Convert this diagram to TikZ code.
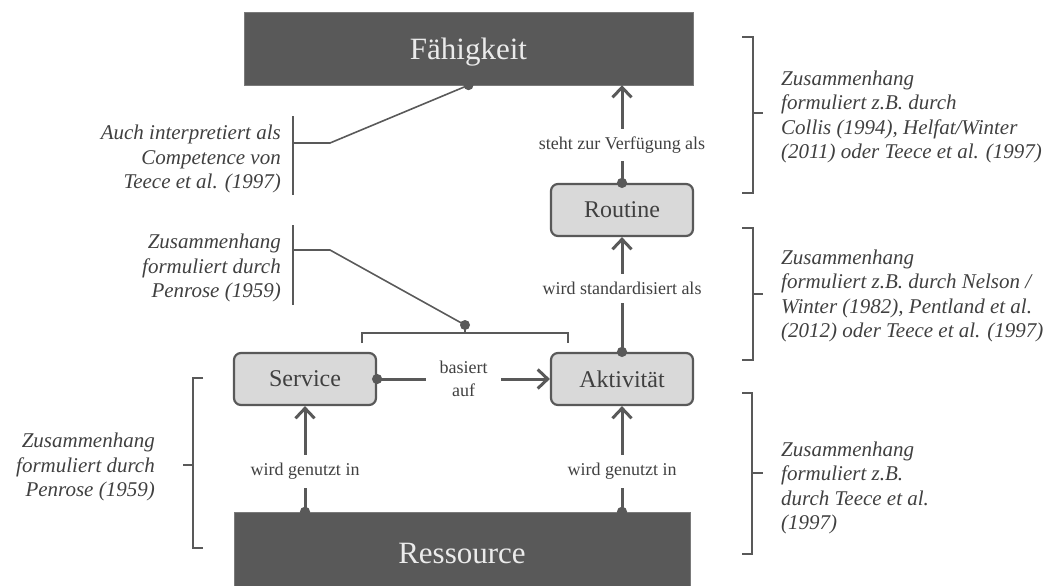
\documentclass[tikz,border=0pt]{standalone}
\usepackage{fontspec}
\setmainfont{Liberation Serif}
\usetikzlibrary{arrows.meta,positioning,calc}
\definecolor{boxdark}{RGB}{89,89,89}
\definecolor{boxlight}{RGB}{217,217,217}
\definecolor{inkgrey}{RGB}{64,64,64}

\tikzset{
  bigbox/.style={fill=boxdark, draw=boxdark!80, text=white!92!black,
    font=\fontsize{31}{34}\selectfont, inner sep=0pt, text depth=0pt},
  midbox/.style={fill=boxlight, draw=boxdark, line width=2.2pt, rounded corners=7pt,
    minimum width=142pt, minimum height=52pt, text=inkgrey, font=\fontsize{24}{27}\selectfont},
  conn/.style={draw=boxdark, line width=3pt, shorten <=-5pt,
    {Circle[length=10pt]}-{Straight Barb[length=10pt,width=19pt]}},
  edgelbl/.style={fill=white, text=inkgrey, font=\fontsize{18}{23}\selectfont,
    align=center, inner xsep=14pt, inner ysep=8pt},
  note/.style={text=inkgrey, font=\fontsize{21}{24.5}\selectfont\itshape, inner sep=0pt},
  brace/.style={draw=boxdark, line width=1.6pt},
}

\begin{document}
\begin{tikzpicture}[x=1pt, y=-1pt]
  \useasboundingbox (0,0) rectangle (1052,586);

  % big boxes
  \node[bigbox, minimum width=449pt, minimum height=73pt] (fah) at (468.5,48.5) {Fähigkeit};
  \node[bigbox, minimum width=456pt, minimum height=82pt] (res) at (462,553) {Ressource};

  % middle boxes
  \node[midbox] (srv)  at (305,379) {Service};
  \node[midbox] (akt)  at (622,379) {Aktivität};
  \node[midbox] (rout) at (622,210) {Routine};

  % connectors
  \draw[conn] (res.north -| srv) -- node[edgelbl, pos=0.38]{wird genutzt in} (srv.south);
  \draw[conn] (res.north -| akt) -- node[edgelbl, pos=0.38]{wird genutzt in} (akt.south);
  \draw[conn] (srv.east) -- node[edgelbl]{basiert\\auf} (akt.west);
  \draw[conn] (akt.north) -- node[edgelbl, pos=0.55]{wird standardisiert als} (rout.south);
  \draw[conn] (rout.north) -- node[edgelbl, pos=0.39]{steht zur Verfügung als} (rout.north |- fah.south);

  % bracket over Service / Aktivitaet
  \coordinate (topdot) at (465,325);
  \draw[brace] (362,343) |- (568,333) -- (568,343);
  \draw[brace] (465,333) -- (topdot);
  \fill[boxdark] (topdot) circle (5pt);
  \fill[boxdark] (fah.south) circle (5pt);

  % notes on the left
  \node[note, anchor=east, align=right] (annComp) at (281,159)
    {Auch interpretiert als\\Competence von\\Teece et al. (1997)};
  \draw[brace] (293,116) -- (293,195);
  \draw[brace] (293,143) -- (330,143) -- (fah.south);

  \node[note, anchor=east, align=right] (annPen) at (281,268)
    {Zusammenhang\\formuliert durch\\Penrose (1959)};
  \draw[brace] (293,225) -- (293,305);
  \draw[brace] (293,250) -- (330,250) -- (topdot);

  \node[note, anchor=east, align=right] (annLow) at (155,467)
    {Zusammenhang\\formuliert durch\\Penrose (1959)};
  \draw[brace] (203,378) -- (193,378) -- (193,548) -- (203,548);
  \draw[brace] (193,465) -- (183,465);

  % notes on the right
  \draw[brace] (742,37) -- (753,37) -- (753,193) -- (742,193);
  \draw[brace] (753,113) -- (763,113);
  \node[note, anchor=west, align=left] (annTop) at (781,117)
    {Zusammenhang\\formuliert z.B. durch\\Collis (1994), Helfat/Winter\\(2011) oder Teece et al. (1997)};

  \draw[brace] (742,228) -- (753,228) -- (753,360) -- (742,360);
  \draw[brace] (753,294) -- (763,294);
  \node[note, anchor=west, align=left] (annMid) at (781,296)
    {Zusammenhang\\formuliert z.B. durch Nelson /\\Winter (1982), Pentland et al.\\(2012) oder Teece et al. (1997)};

  \draw[brace] (742,393) -- (752,393) -- (752,554) -- (742,554);
  \draw[brace] (752,473) -- (763,473);
  \node[note, anchor=west, align=left] (annBot) at (781,488)
    {Zusammenhang\\formuliert z.B.\\durch Teece et al.\\(1997)};
\end{tikzpicture}
\end{document}
